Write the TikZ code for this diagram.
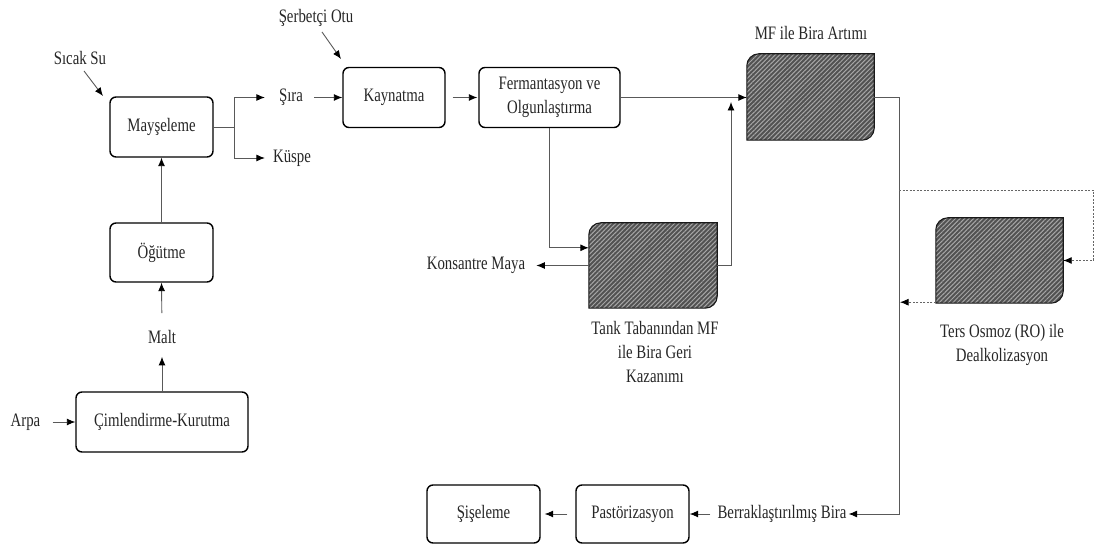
\documentclass[tikz,border=0pt]{standalone}
\usepackage{fontspec}
\setmainfont[FakeStretch=0.78]{Liberation Serif}
\usetikzlibrary{arrows.meta,calc,patterns.meta}
\begin{document}
\begin{tikzpicture}[x=1pt,y=-1pt,
  every node/.style={font=\fontsize{19}{24}\selectfont, text=black!85},
  txt/.style={inner sep=1pt, align=center},
  box/.style={draw=black, line width=1.4pt, rounded corners=6pt, inner sep=0pt, align=center},
  conn/.style={draw=gray!70!black, line width=0.9pt},
  arr/.style={conn, -{Latex[length=8.5pt,width=7pt,color=black]}},
  darr/.style={arr, dash pattern=on 2pt off 1.5pt, draw=gray!80!black},
  hatchpath/.style={insert path={(#1.south west) -- ($(#1.north west)+(0,12)$) .. controls ($(#1.north west)+(0,5.4)$) and ($(#1.north west)+(5.4,0)$) .. ($(#1.north west)+(12,0)$) -- (#1.north east) -- ($(#1.south east)+(0,-12)$) .. controls ($(#1.south east)+(0,-5.4)$) and ($(#1.south east)+(-5.4,0)$) .. ($(#1.south east)+(-12,0)$) -- cycle}},
  hatch/.style={fill=black!68, draw=none,
    postaction={pattern={Lines[angle=45,distance=3.2pt,line width=1pt]}, pattern color=black!35},
    postaction={draw=black!90, line width=1.1pt}}
]
\useasboundingbox (0,0) rectangle (1095,545);

% ---- process boxes
\node[box, minimum width=103pt, minimum height=60pt] (mays) at (161.5,127) {Mayşeleme};
\node[box, minimum width=103pt, minimum height=59pt] (ogut) at (161.5,252.5) {Öğütme};
\node[box, minimum width=172pt, minimum height=60pt] (cim) at (162,422) {Çimlendirme-Kurutma};
\node[box, minimum width=102pt, minimum height=60pt] (kayn) at (394,97.5) {Kaynatma};
\node[box, minimum width=141pt, minimum height=60pt] (ferm) at (549.5,97.5) {Fermantasyon ve\\Olgunlaştırma};
\node[box, minimum width=113pt, minimum height=58pt] (past) at (632.5,514) {Pastörizasyon};
\node[box, minimum width=113pt, minimum height=58pt] (sise) at (483.5,514) {Şişeleme};

% ---- hatched units
\node[minimum width=127pt, minimum height=86pt, inner sep=0pt] (mf) at (810.5,97) {};
\node[minimum width=128pt, minimum height=85pt, inner sep=0pt] (tank) at (653,265.5) {};
\node[minimum width=127pt, minimum height=85pt, inner sep=0pt] (ro) at (999.5,260.5) {};
\path[hatch, hatchpath=mf];
\path[hatch, hatchpath=tank];
\path[hatch, hatchpath=ro];

% ---- labels
\node[txt] (sicak) at (80,58) {Sıcak Su};
\node[txt] (serb) at (316,18) {Şerbetçi Otu};
\node[txt] (sira) at (291,97.5) {Şıra};
\node[txt] (kuspe) at (292,158) {Küspe};
\node[txt] (malt) at (162,337) {Malt};
\node[txt] (arpa) at (25.5,422) {Arpa};
\node[txt] (mflab) at (811,33) {MF ile Bira Artımı};
\node[txt] (konsa) at (476,265.5) {Konsantre Maya};
\node[txt] (tanklab) at (655,352) {Tank Tabanından MF\\ile Bira Geri\\Kazanımı};
\node[txt] (rolab) at (1002,345) {Ters Osmoz (RO) ile\\Dealkolizasyon};
\node[txt] (berr) at (782,514) {Berraklaştırılmış Bira};

% ---- coordinates
\coordinate (sicakA) at (84,71);
\coordinate (sicakB) at (103,96);
\coordinate (serbA) at (322,32);
\coordinate (serbB) at (341,59);
\coordinate (br) at (234,127);
\coordinate (tankin) at ($(tank.north west)+(0,25)$);
\coordinate (mfup) at (731,97);
\coordinate (rc) at (899,514);
\coordinate (d1) at (899,190);
\coordinate (d2) at (1093,190);

% ---- connectors
\draw[arr] (sicakA) -- (sicakB);
\draw[arr] (serbA) -- (serbB);
\draw[arr, shorten <=11pt] (arpa.east) -- (cim.west);
\draw[arr, shorten >=12pt] (cim.north) -- (malt.south);
\draw[arr, shorten <=16pt] (malt.north) -- (ogut.south);
\draw[arr] (ogut.north) -- (mays.south);
\draw[conn] (mays.east) -- (br);
\draw[arr, shorten >=13pt] (br) |- (sira.west);
\draw[arr, shorten >=7pt] (br) |- (kuspe.west);
\draw[arr, shorten <=10pt] (sira.east) -- (kayn.west);
\draw[arr, shorten <=7pt, shorten >=1pt] (kayn.east) -- (ferm.west);
\draw[arr] (ferm.east) -- (ferm.east -| mf.west);
\draw[arr] (ferm.south) |- (tankin);
\draw[arr, shorten >=10pt] (tank.west) -- (konsa.east);
\draw[arr, shorten >=5pt] (tank.east) -| (mfup);
\draw[arr, shorten >=1pt] (mf.east) -| (rc) -- (berr.east);
\draw[arr, shorten <=6pt] (berr.west) -- (past.east);
\draw[arr, shorten <=8pt, shorten >=4pt] (past.west) -- (sise.east);
\draw[darr] (d1) -- (d2) |- (ro.east);
\draw[darr] ($(ro.south west)+(0,-1)$) -- ($(ro.south west -| d1)+(1,-1)$);
\end{tikzpicture}
\end{document}
